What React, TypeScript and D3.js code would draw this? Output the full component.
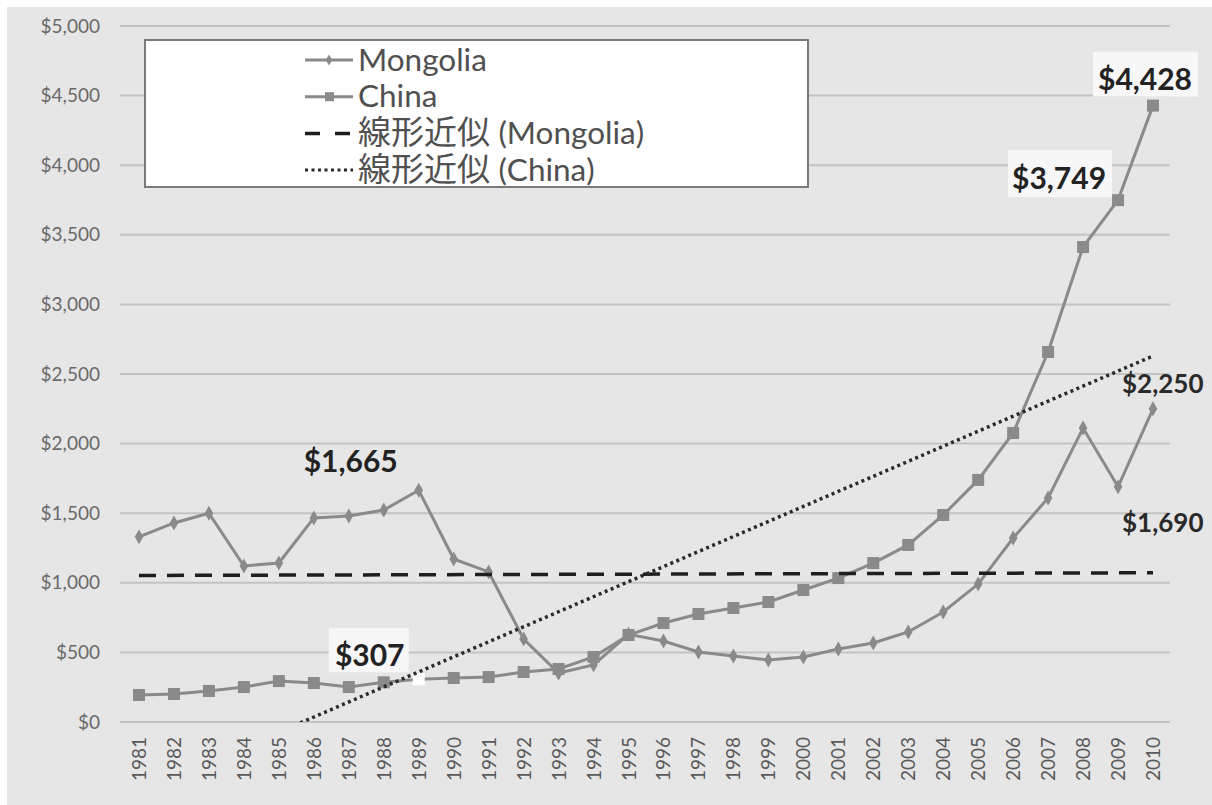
import React from "react";
import * as d3 from "d3";

const years = ["1981","1982","1983","1984","1985","1986","1987","1988","1989","1990","1991","1992","1993","1994","1995","1996","1997","1998","1999","2000","2001","2002","2003","2004","2005","2006","2007","2008","2009","2010"];
const mongolia = [1330,1430,1500,1121,1142,1466,1480,1523,1665,1171,1078,596,352,410,630,582,503,474,445,467,524,568,647,790,991,1322,1609,2112,1690,2250];
const china = [194,201,223,251,294,280,251,285,307,316,323,359,381,467,625,711,776,819,862,948,1034,1142,1272,1487,1739,2076,2658,3412,3749,4428];
const yTicks = [0,500,1000,1500,2000,2500,3000,3500,4000,4500,5000];
const trendPrefix = "線形近似";
const legendLabels = ["Mongolia","China","(Mongolia)","(China)"];

const W = 1212, H = 805;
const FONT = "Lato, 'Open Sans', 'Noto Sans CJK JP', sans-serif";
const SERIES = "#8a8a8a";

function fit(vals: number[]) {
  const n = vals.length;
  const xs = vals.map((_, i) => i);
  const mx = d3.mean(xs)!, my = d3.mean(vals)!;
  let sxy = 0, sxx = 0;
  xs.forEach((x, i) => { sxy += (x - mx) * (vals[i] - my); sxx += (x - mx) * (x - mx); });
  const b = sxy / sxx; const a = my - b * mx;
  return [a, a + b * (n - 1)];
}

export default function App() {
  const x = d3.scalePoint<string>().domain(years).range([139, 1153]);
  const y = d3.scaleLinear().domain([0, 5000]).range([722, 26]);
  const line = d3.line<number>().x((_, i) => x(years[i])!).y((d) => y(d));
  const fmt = (v: number) => "$" + d3.format(",")(v);
  const diamond = d3.symbol().type(d3.symbolDiamond).size(64)()!;
  const diamondSm = d3.symbol().type(d3.symbolDiamond).size(36)()!;
  const mT = fit(mongolia), cT = fit(china);
  const first = years[0], last = years[years.length - 1];

  const pt = (s: string, yr: string) => {
    const i = years.indexOf(yr);
    const v = s === "china" ? china[i] : mongolia[i];
    return { cx: x(yr)!, cy: y(v), text: fmt(v) };
  };
  const c10 = pt("china", "2010"), c09 = pt("china", "2009"), c89 = pt("china", "1989");
  const m89 = pt("mongolia", "1989"), m10 = pt("mongolia", "2010"), m09 = pt("mongolia", "2009");

  return (
    <div style={{ position: "absolute", left: 0, top: 0 }}>
      <svg width={W} height={H} style={{ display: "block" }} fontFamily={FONT}>
        <defs>
          <clipPath id="plot"><rect x={0} y={0} width={W} height={722} /></clipPath>
        </defs>
        <rect x={0} y={0} width={W} height={H} fill="#ffffff" />
        <rect x={7} y={7} width={W - 7} height={H - 7} fill="#e6e6e6" />
        {yTicks.map((t) => (
          <g key={t}>
            <line x1={120} x2={1170} y1={y(t)} y2={y(t)} stroke="#c3c3c3" strokeWidth={2} />
            <text x={100} y={y(t)} dy="0.35em" textAnchor="end" fontSize={19} fill="#6a6a6a">{fmt(t)}</text>
          </g>
        ))}
        {years.map((yr) => (
          <text key={yr} transform={`translate(${x(yr)! + 7},737) rotate(-90)`} textAnchor="end" fontSize={19} fill="#5a5a5a">{yr}</text>
        ))}
        <path d={line(mongolia)!} fill="none" stroke={SERIES} strokeWidth={3} />
        <path d={line(china)!} fill="none" stroke={SERIES} strokeWidth={3} />
        {mongolia.map((v, i) => (
          <path key={"m" + i} d={diamond} transform={`translate(${x(years[i])},${y(v)})`} fill={SERIES} />
        ))}
        {china.map((v, i) => (
          <rect key={"c" + i} x={x(years[i])! - 6} y={y(v) - 6} width={12} height={12}
            fill={years[i] === "1989" ? "#ffffff" : SERIES} />
        ))}
        <line x1={x(first)} x2={x(last)} y1={y(mT[0])} y2={y(mT[1])} stroke="#1e1e1e" strokeWidth={3.5} strokeDasharray="17,11" />
        <line x1={x(first)} x2={x(last)} y1={y(cT[0])} y2={y(cT[1])} stroke="#2a2a2a" strokeWidth={3.5} strokeDasharray="3,3.5" clipPath="url(#plot)" />

        {/* legend */}
        <rect x={145} y={40} width={663} height={147} fill="#ffffff" stroke="#7a7a7a" strokeWidth={2} />
        {legendLabels.map((l, i) => {
          const cy = 60 + i * 36.7;
          return (
            <g key={l}>
              {i === 0 && (<><line x1={305} x2={353} y1={cy} y2={cy} stroke={SERIES} strokeWidth={3} /><path d={diamondSm} transform={`translate(329,${cy})`} fill={SERIES} /></>)}
              {i === 1 && (<><line x1={305} x2={353} y1={cy} y2={cy} stroke={SERIES} strokeWidth={3} /><rect x={325} y={cy - 4.5} width={9} height={9} fill={SERIES} /></>)}
              {i === 2 && <line x1={305} x2={353} y1={cy} y2={cy} stroke="#1e1e1e" strokeWidth={3.5} strokeDasharray="15,15" />}
              {i === 3 && <line x1={305} x2={353} y1={cy} y2={cy} stroke="#2a2a2a" strokeWidth={3} strokeDasharray="3,3.5" />}
              <text x={358} y={cy + 10.5} fontSize={31.5} fill="#505050">
                {i >= 2 && <tspan fontSize={33}>{trendPrefix} </tspan>}
                {l}
              </text>
            </g>
          );
        })}

        {/* value labels */}
        <rect x={c10.cx - 60} y={c10.cy - 54} width={105} height={45} fill="#f7f7f7" />
        <text x={c10.cx - 8} y={c10.cy - 16} textAnchor="middle" fontSize={30} fontWeight="bold" fill="#222">{c10.text}</text>
        <rect x={c09.cx - 110} y={c09.cy - 50} width={104} height={47} fill="#f7f7f7" />
        <text x={c09.cx - 59} y={c09.cy - 11} textAnchor="middle" fontSize={30} fontWeight="bold" fill="#222">{c09.text}</text>
        <rect x={c89.cx - 90} y={c89.cy - 51} width={80} height={44} fill="#f7f7f7" />
        <text x={c89.cx - 49} y={c89.cy - 13} textAnchor="middle" fontSize={30} fontWeight="bold" fill="#222">{c89.text}</text>
        <text x={m89.cx - 68} y={m89.cy - 18} textAnchor="middle" fontSize={30} fontWeight="bold" fill="#222">{m89.text}</text>
        <text x={m10.cx - 31} y={m10.cy - 16} fontSize={26} fontWeight="bold" fill="#2a2a2a">{m10.text}</text>
        <text x={m09.cx + 4} y={m09.cy + 45} fontSize={26} fontWeight="bold" fill="#2a2a2a">{m09.text}</text>
      </svg>
    </div>
  );
}
